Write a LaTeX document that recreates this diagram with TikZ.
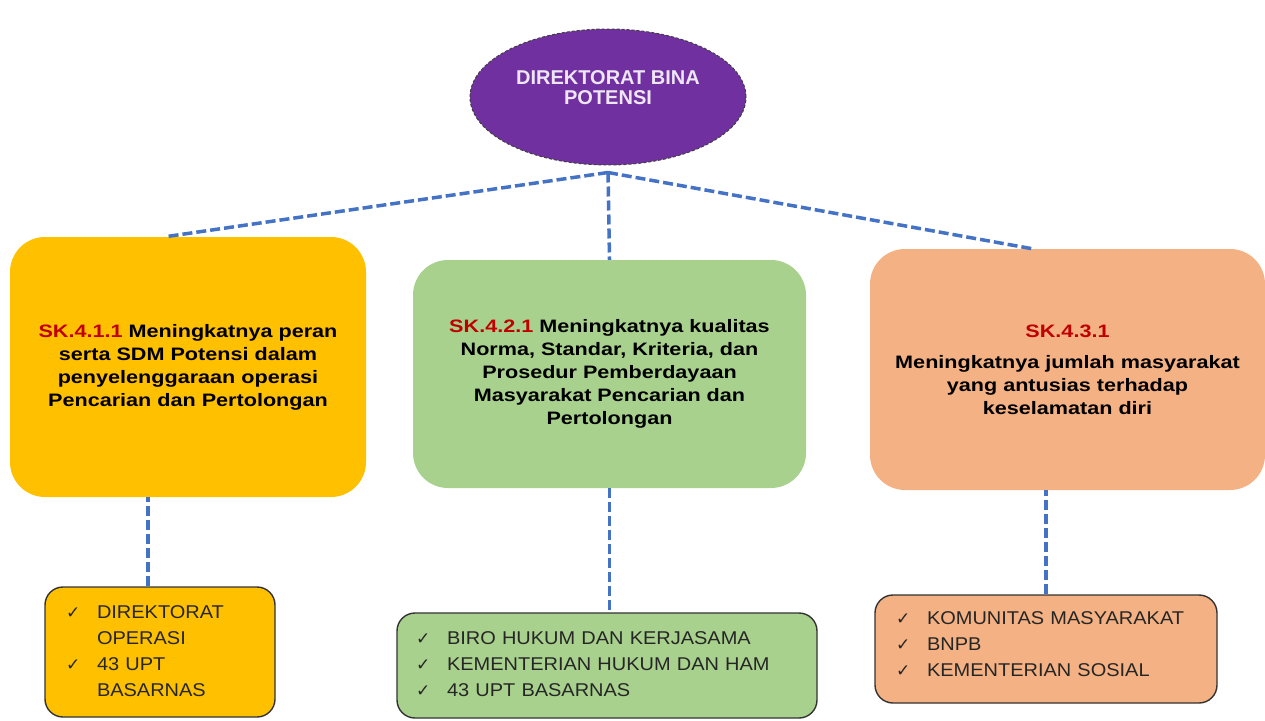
\documentclass[tikz,border=0pt]{standalone}
\usepackage{fontspec}
\setmainfont{Liberation Sans}
\newfontfamily\boxfont[FakeStretch=1.2]{Liberation Sans}
\newfontfamily\listfont[FakeStretch=1.08]{Liberation Sans}
\newfontfamily\symfont{DejaVu Sans}
\usetikzlibrary{calc,positioning,shapes.geometric}
\definecolor{dirpurple}{HTML}{7030A0}
\definecolor{goalyellow}{HTML}{FFC000}
\definecolor{goalgreen}{HTML}{A9D18E}
\definecolor{goalsalmon}{HTML}{F4B183}
\definecolor{skred}{HTML}{C00000}
\definecolor{linkblue}{HTML}{4472C4}
\newcommand{\chk}{\makebox[32pt][l]{\hspace{1pt}\symfont\fontsize{17}{17}\selectfont ✓}}
\tikzset{
  goalbox/.style={rectangle, rounded corners=35pt, align=center, inner sep=0pt,
    font=\boxfont\bfseries\fontsize{18}{23}\selectfont},
  partnerbox/.style={rectangle, rounded corners=18pt, draw=black!80, line width=1.4pt,
    align=left, inner ysep=0pt, text=black!85, font=\listfont\fontsize{18.5}{26}\selectfont},
  link/.style={draw=linkblue, line width=3.5pt, dash pattern=on 10pt off 4pt},
}

\begin{document}
\begin{tikzpicture}[x=1pt,y=-1pt]
	\useasboundingbox (0,0) rectangle (1265,720);
	
	% direktorat
	\node[ellipse, fill=dirpurple, draw=black!75, dash pattern=on 3pt off 2pt, line width=1pt,
		minimum width=276pt, minimum height=136pt] (dir) at (608,97) {};
	\node[font=\bfseries\fontsize{20}{20}\selectfont, text=white!88!dirpurple, align=center]
		(dirlabel) at (608,88) {DIREKTORAT BINA\\POTENSI};
	
	% sasaran kegiatan
	\node[goalbox, fill=goalyellow, minimum width=356pt, minimum height=260pt] (sk1) at (188,367)
		{\textcolor{skred}{SK.4.1.1} Meningkatnya peran\\serta SDM Potensi dalam\\penyelenggaraan operasi\\Pencarian dan Pertolongan};
	\node[goalbox, fill=goalgreen, minimum width=393pt, minimum height=228pt] (sk2) at (609.5,374)
		{\textcolor{skred}{SK.4.2.1} Meningkatnya kualitas\\Norma, Standar, Kriteria, dan\\Prosedur Pemberdayaan\\Masyarakat Pencarian dan\\Pertolongan};
	\node[goalbox, fill=goalsalmon, minimum width=395pt, minimum height=241pt] (sk3) at (1067.5,369.5)
		{\textcolor{skred}{SK.4.3.1}\\[8pt]Meningkatnya jumlah masyarakat\\yang antusias terhadap\\keselamatan diri};
	
	% mitra
	\node[partnerbox, fill=goalyellow, text width=190pt, inner xsep=20pt, minimum height=130pt] (mit1) at (160,652)
		{\begin{tabular}{@{}l@{}l@{}}\chk & DIREKTORAT\\ & OPERASI\\ \chk & 43 UPT\\ & BASARNAS\end{tabular}};
	\node[partnerbox, fill=goalgreen, text width=384pt, inner xsep=18pt, minimum height=105pt] (mit2) at (607,665.5)
		{\begin{tabular}{@{}l@{}l@{}}\chk & BIRO HUKUM DAN KERJASAMA\\ \chk & KEMENTERIAN HUKUM DAN HAM\\ \chk & 43 UPT BASARNAS\end{tabular}};
	\node[partnerbox, fill=goalsalmon, text width=302pt, inner xsep=20pt, minimum height=108pt] (mit3) at (1046,649)
		{\raisebox{4pt}[\height][\depth]{\begin{tabular}{@{}l@{}l@{}}\chk & KOMUNITAS MASYARAKAT\\ \chk & BNPB\\ \chk & KEMENTERIAN SOSIAL\end{tabular}}};
	
	% garis
	\coordinate (hub) at ($(dir.south)+(0,7)$);
	\draw[link] (hub) -- ($(sk1.north)+(-23,0)$);
	\draw[link] (hub) -- (sk2.north);
	\draw[link] (hub) -- ($(sk3.north)+(-35,0)$);
	
	\coordinate (mit1top) at ($(mit1.north)+(-12,0)$);
	\draw[link] (mit1top) -- (mit1top |- sk1.south);
	\draw[link] (sk2.south) -- (sk2.south |- mit2.north);
	\draw[link] (mit3.north) -- (mit3.north |- sk3.south);
\end{tikzpicture}
\end{document}
